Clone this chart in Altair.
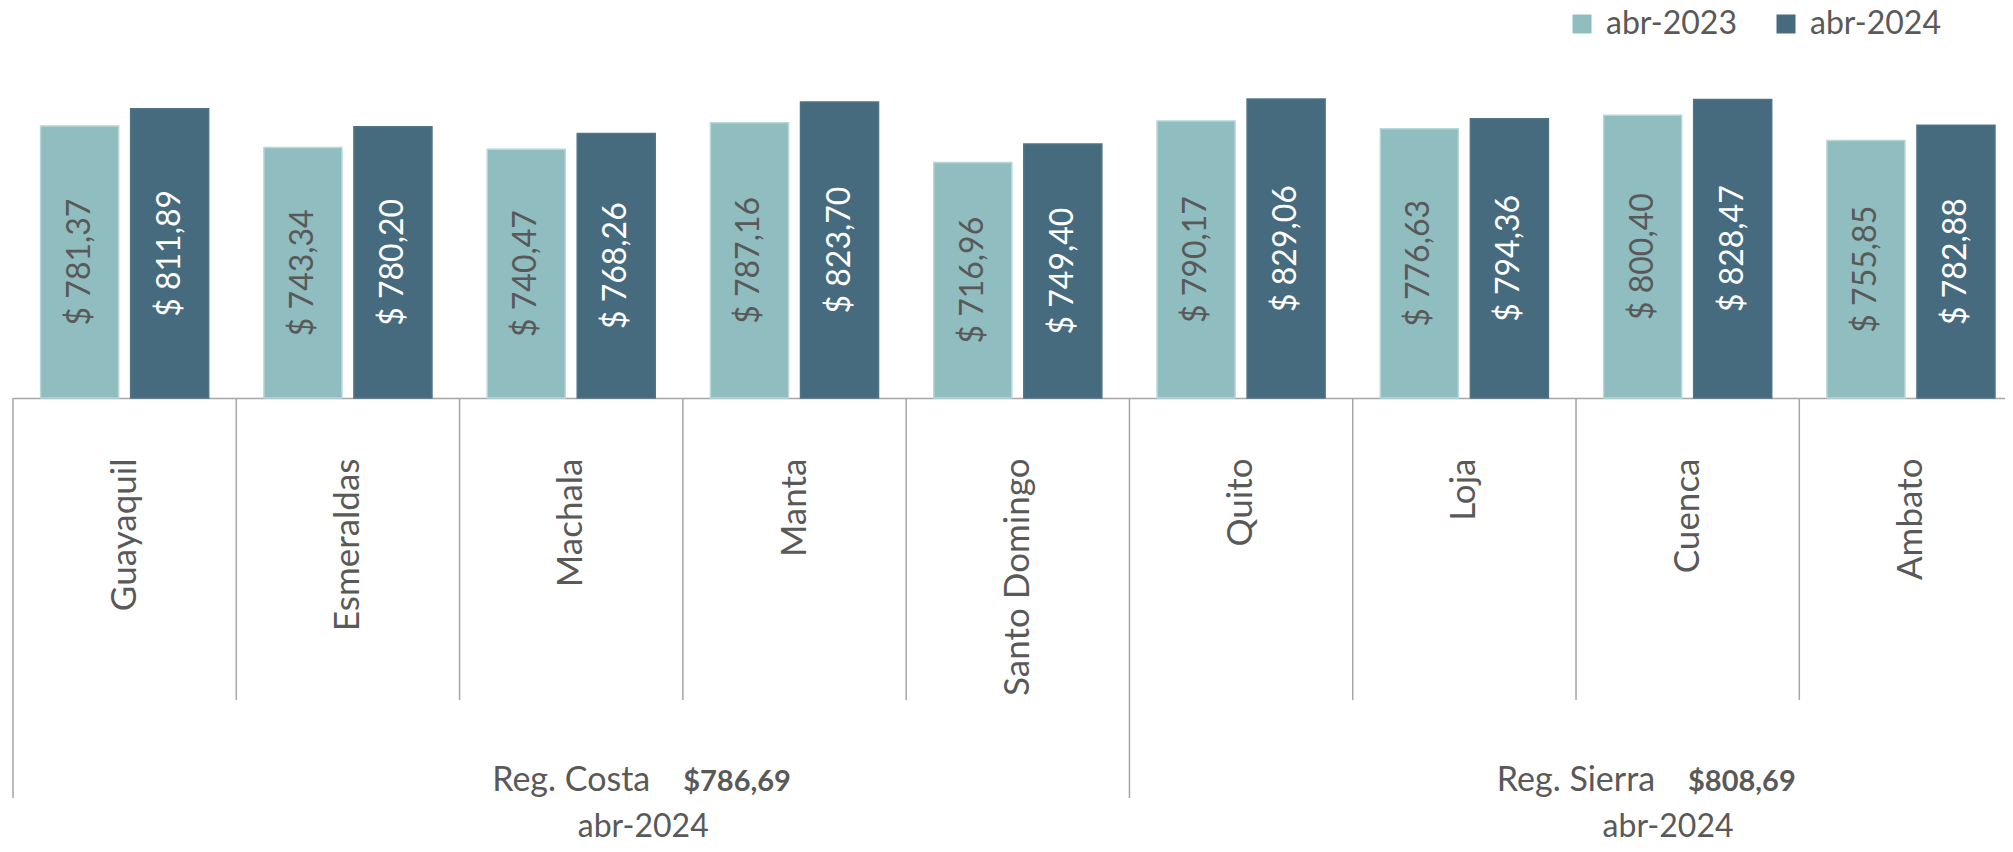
import altair as alt
import pandas as pd

# ---------------- data ----------------
cities = ["Guayaquil", "Esmeraldas", "Machala", "Manta", "Santo Domingo",
          "Quito", "Loja", "Cuenca", "Ambato"]
series = ["abr-2023", "abr-2024"]
v2023 = [781.37, 743.34, 740.47, 787.16, 716.96, 790.17, 776.63, 800.40, 755.85]
v2024 = [811.89, 780.20, 768.26, 823.70, 749.40, 829.06, 794.36, 828.47, 782.88]
region_names = ["Reg. Costa", "Reg. Sierra"]
region_totals = ["$786,69", "$808,69"]
region_first = ["Guayaquil", "Quito"]
period = "abr-2024"

# ---------------- style ----------------
FONT = "Lato"
TXT = "#595959"
GRID = "#a6a6a6"
fill_colors = ["#8fbdc0", "#476b7e"]
stroke_colors = ["#b6d6d8", "#4f7387"]
Y_MIN, Y_MAX = 300, 900
W, H = 1992, 339
X_RANGE = 2009.6   # the last category runs past the right edge of the picture

rows = []
for i, c in enumerate(cities):
    for s, vals in zip(series, [v2023, v2024]):
        v = vals[i]
        rows.append(dict(city=c, series=s, value=v,
                         label="$ " + f"{v:.2f}".replace(".", ",")))
df = pd.DataFrame(rows)
df["mid"] = (df["value"] + Y_MIN) / 2

x_scale = alt.Scale(domain=cities, range=[0, X_RANGE], paddingInner=0, paddingOuter=0)
y_scale = alt.Scale(domain=[Y_MIN, Y_MAX], nice=False, zero=False)
xo_scale = alt.Scale(domain=series, paddingInner=0.1333, paddingOuter=0.3067)

base = alt.Chart(df)

bars = base.mark_bar(strokeWidth=1.5).encode(
    x=alt.X("city:N", scale=x_scale, sort=None,
            axis=alt.Axis(title=None, labelAngle=270, labelAlign="right",
                          labelBaseline="middle", labelPadding=60, ticks=False,
                          domainColor=GRID, domainWidth=1.5, labelFont=FONT,
                          labelFontSize=35, labelColor=TXT, labelLimit=500,
                          grid=False)),
    xOffset=alt.XOffset("series:N", scale=xo_scale, sort=series),
    y=alt.Y("value:Q", scale=y_scale, axis=None),
    y2=alt.datum(Y_MIN),
    color=alt.Color("series:N", scale=alt.Scale(domain=series, range=fill_colors),
                    legend=alt.Legend(title=None, orient="none", legendX=1553,
                                      legendY=-51, direction="horizontal",
                                      symbolType="square", symbolSize=361,
                                      symbolStrokeWidth=0,
                                      labelFont=FONT, labelFontSize=32,
                                      labelColor=TXT, labelOffset=8,
                                      columnPadding=33, padding=0)),
    stroke=alt.Stroke("series:N", scale=alt.Scale(domain=series, range=stroke_colors),
                      legend=None),
)

labels = base.mark_text(angle=270, align="center", baseline="middle",
                        font=FONT, fontSize=32).encode(
    x=alt.X("city:N", scale=x_scale, sort=None),
    xOffset=alt.XOffset("series:N", scale=xo_scale, sort=series),
    y=alt.Y("mid:Q", scale=y_scale),
    text="label:N",
    color=alt.condition(alt.datum.series == series[0], alt.value(TXT), alt.value("white")),
)

# separators between categories (short) and between regions (long)
short_sep = [c for c in cities if c not in region_first]
rules_short = alt.Chart(pd.DataFrame({"city": short_sep})).mark_rule(
    color=GRID, strokeWidth=1.5).encode(
    x=alt.X("city:N", scale=x_scale, bandPosition=0),
    y=alt.value(H), y2=alt.value(H + 302))
rules_long = alt.Chart(pd.DataFrame({"city": region_first})).mark_rule(
    color=GRID, strokeWidth=1.5).encode(
    x=alt.X("city:N", scale=x_scale, bandPosition=0),
    y=alt.value(H), y2=alt.value(H + 400))

# region labels
def region_layers(anchor, band_pos, name, total, year_dx):
    d = pd.DataFrame({"city": [anchor], "name": [name], "total": [total], "period": [period]})
    ch = alt.Chart(d)
    xenc = alt.X("city:N", scale=x_scale, bandPosition=band_pos)
    t_name = ch.mark_text(font=FONT, fontSize=34, color=TXT, align="center",
                          baseline="alphabetic").encode(
        x=xenc, y=alt.value(H + 393), text="name:N")
    t_total = ch.mark_text(font=FONT, fontSize=29, fontWeight="bold", color=TXT,
                           align="left", baseline="alphabetic", dx=112).encode(
        x=xenc, y=alt.value(H + 393), text="total:N")
    t_year = ch.mark_text(font=FONT, fontSize=32, color=TXT, align="center",
                          baseline="alphabetic", dx=year_dx).encode(
        x=xenc, y=alt.value(H + 439), text="period:N")
    return [t_name, t_total, t_year]

reg = region_layers("Machala", 0.5, region_names[0], region_totals[0], 72) + \
      region_layers("Cuenca", 0, region_names[1], region_totals[1], 92)

chart = alt.layer(bars, labels, rules_short, rules_long, *reg).properties(
    width=W, height=H,
    autosize=alt.AutoSizeParams(type="none"),
    padding={"left": 5, "top": 51, "right": 0, "bottom": 446},
).configure_view(strokeWidth=0)

chart.save("out.html", embed_options={"renderer": "svg", "actions": False})
